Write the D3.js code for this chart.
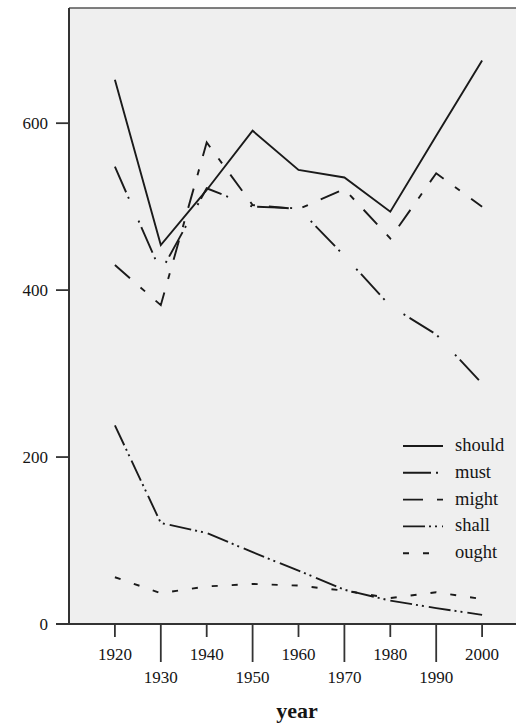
<!DOCTYPE html>
<html>
<head>
<meta charset="utf-8">
<script src="https://cdn.jsdelivr.net/npm/d3@7/dist/d3.min.js"></script>
<style>
  html, body { margin: 0; padding: 0; background: #fff; }
  svg { display: block; }
  text { font-family: "Liberation Serif", "DejaVu Serif", serif; fill: #151515; }
</style>
</head>
<body>
<svg id="chart" width="516" height="727"></svg>
<script>
// Modal verb frequencies by decade
const years = [1920, 1930, 1940, 1950, 1960, 1970, 1980, 1990, 2000];
const should = [652, 454, 520, 591, 544, 535, 494, 585, 675];
const must   = [548, 422, 522, 500, 498, 441, 381, 347, 288];
const might  = [430, 382, 577, 502, 497, 521, 462, 540, 500];
const shall  = [238, 121, 109, 86, 64, 41, 28, 19, 11];
const ought  = [56, 37, 45, 48, 46, 40, 31, 38, 30];
const seriesNames = ["should", "must", "might", "shall", "ought"];
const yTicks = [0, 200, 400, 600];
const xTicks = [1920, 1930, 1940, 1950, 1960, 1970, 1980, 1990, 2000];

const dashes = {
  should: null,
  must: "28 5 2 24 2 5",
  might: "20 14 6 14",
  shall: "22 4 2 4 2 5",
  ought: "6 14"
};
const values = { should, must, might, shall, ought };

const svg = d3.select("#chart");
const plotLeft = 69, plotTop = 8, plotBottom = 624, plotRight = 528;

const x = d3.scaleLinear().domain([1910, 2010]).range([plotLeft, plotRight]);
const y = d3.scaleLinear().domain([0, 738]).range([plotBottom, plotTop]);

// plot panel
svg.append("rect")
  .attr("x", plotLeft).attr("y", plotTop)
  .attr("width", plotRight - plotLeft).attr("height", plotBottom - plotTop)
  .attr("fill", "#efefef");
svg.append("line")
  .attr("x1", plotLeft).attr("x2", plotRight).attr("y1", plotTop).attr("y2", plotTop)
  .attr("stroke", "#555").attr("stroke-width", 1.5);

// lines
const line = d3.line().x((d, i) => x(years[i])).y(d => y(d));
seriesNames.forEach(name => {
  svg.append("path")
    .datum(values[name])
    .attr("d", line)
    .attr("fill", "none")
    .attr("stroke", "#1a1a1a")
    .attr("stroke-width", 1.9)
    .attr("stroke-dasharray", dashes[name]);
});

// y axis
const yAxis = svg.append("g");
yAxis.append("line")
  .attr("x1", plotLeft).attr("x2", plotLeft).attr("y1", plotTop).attr("y2", plotBottom + 1)
  .attr("stroke", "#333").attr("stroke-width", 2);
yTicks.forEach(t => {
  yAxis.append("line")
    .attr("x1", 56).attr("x2", plotLeft).attr("y1", y(t)).attr("y2", y(t))
    .attr("stroke", "#333").attr("stroke-width", 1.8);
  yAxis.append("text")
    .attr("x", 48).attr("y", y(t) + 6)
    .attr("text-anchor", "end")
    .attr("font-size", 17)
    .text(t);
});

// x axis
const xAxis = svg.append("g");
xAxis.append("line")
  .attr("x1", 56).attr("x2", plotRight).attr("y1", plotBottom).attr("y2", plotBottom)
  .attr("stroke", "#333").attr("stroke-width", 2);
xTicks.forEach((t, i) => {
  const low = i % 2 === 1;
  xAxis.append("line")
    .attr("x1", x(t)).attr("x2", x(t))
    .attr("y1", plotBottom).attr("y2", low ? 662 : 637)
    .attr("stroke", "#333").attr("stroke-width", 1.8);
  xAxis.append("text")
    .attr("x", x(t)).attr("y", low ? 683 : 660)
    .attr("text-anchor", "middle")
    .attr("font-size", 17)
    .text(t);
});
svg.append("text")
  .attr("x", 297).attr("y", 718)
  .attr("text-anchor", "middle")
  .attr("font-size", 22)
  .attr("font-weight", "bold")
  .text("year");

// legend
const legend = svg.append("g");
seriesNames.forEach((name, i) => {
  const cy = 446 + i * 26.8;
  legend.append("line")
    .attr("x1", 403).attr("x2", 443).attr("y1", cy).attr("y2", cy)
    .attr("stroke", "#1a1a1a").attr("stroke-width", 1.9)
    .attr("stroke-dasharray", dashes[name]);
  legend.append("text")
    .attr("x", 455).attr("y", cy + 5)
    .attr("font-size", 18.5)
    .text(name);
});
</script>
</body>
</html>
